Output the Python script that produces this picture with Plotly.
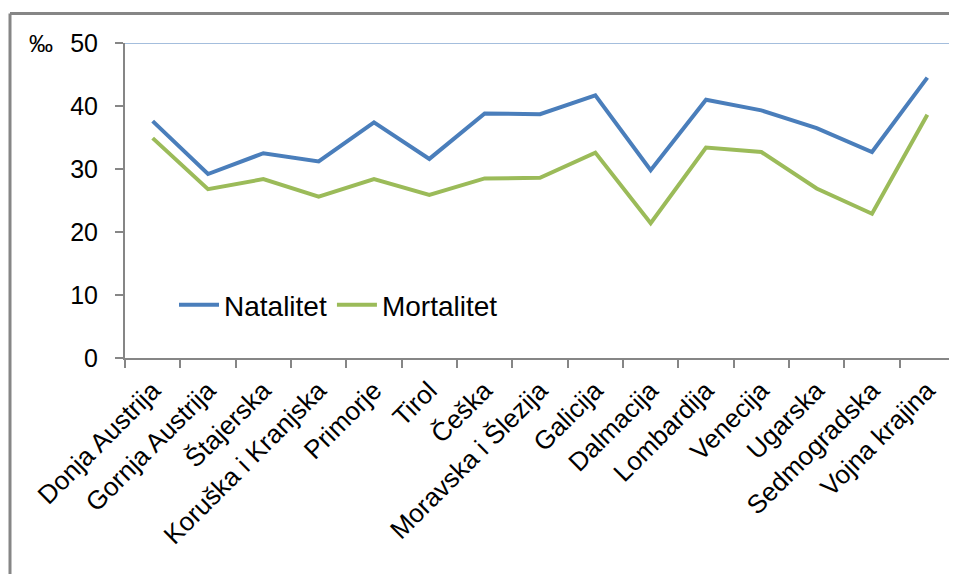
import plotly.graph_objects as go

categories = ["Donja Austrija", "Gornja Austrija", "Štajerska", "Koruška i Kranjska",
              "Primorje", "Tirol", "Češka", "Moravska i Šlezija", "Galicija",
              "Dalmacija", "Lombardija", "Venecija", "Ugarska", "Sedmogradska",
              "Vojna krajina"]
natalitet = [37.6, 29.2, 32.5, 31.2, 37.4, 31.6, 38.8, 38.7, 41.7, 29.8, 41.0, 39.3, 36.5, 32.7, 44.5]
mortalitet = [34.9, 26.8, 28.4, 25.6, 28.4, 25.9, 28.5, 28.6, 32.6, 21.4, 33.4, 32.7, 26.9, 22.9, 38.6]
y_ticks = [0, 10, 20, 30, 40, 50]

# page body has an 8px margin; work in reference pixel coords and shift
OFF = 8
W, H = 957 - 2 * OFF, 582 - 2 * OFF
L, T = 125 - OFF, 43 - OFF
R = 0
B = H - (358 - OFF)
pw, ph = W - L - R, H - T - B
cat_w = (955 - 125) / len(categories)
x_end = -0.5 + pw / cat_w

def px(x):
    return (x - OFF - L) / pw

def py(y):
    return (H - B - (y - OFF)) / ph

fig = go.Figure()
fig.add_trace(go.Scatter(x=categories, y=natalitet, name="Natalitet", mode="lines",
                         line=dict(color="#4a7ebb", width=4)))
fig.add_trace(go.Scatter(x=categories, y=mortalitet, name="Mortalitet", mode="lines",
                         line=dict(color="#9bbb59", width=4)))

font = "Liberation Sans, Arial, sans-serif"
fig.update_layout(
    width=W, height=H,
    margin=dict(l=L, r=R, t=T, b=B, autoexpand=False),
    paper_bgcolor="white", plot_bgcolor="white",
    font=dict(family=font, color="black"),
    showlegend=True,
    legend=dict(orientation="h", x=px(174), xanchor="left", y=py(305), yanchor="middle",
                font=dict(size=28, family=font), bgcolor="rgba(0,0,0,0)",
                itemwidth=40, tracegroupgap=0),
    xaxis=dict(type="category", tickangle=-45, tickson="boundaries",
               ticks="outside", ticklen=8, tickcolor="#868686", tickwidth=2,
               showline=True, linecolor="#868686", linewidth=2,
               showgrid=False, zeroline=False, automargin=False,
               tickfont=dict(size=26, family=font, color="black"),
               ticklabelstandoff=5,
               range=[-0.5, x_end]),
    yaxis=dict(range=[0, 50], tickvals=y_ticks, ticks="outside", ticklen=8,
               tickcolor="#868686", tickwidth=2,
               showline=True, linecolor="#868686", linewidth=2,
               showgrid=False, zeroline=False, automargin=False,
               tickfont=dict(size=25, family=font, color="black"),
               ticklabelstandoff=12),
    shapes=[
        dict(type="line", xref="paper", yref="y", x0=0, x1=1, y0=50, y1=50,
             line=dict(color="#4a7ebb", width=1)),
        dict(type="line", xref="paper", yref="paper", x0=px(10), x1=1.0,
             y0=py(13.5), y1=py(13.5), line=dict(color="#868686", width=3)),
        dict(type="line", xref="paper", yref="paper", x0=px(10), x1=px(10),
             y0=py(13.5), y1=-B / ph, line=dict(color="#868686", width=3)),
    ],
    annotations=[
        dict(text="‰", xref="paper", yref="paper", x=px(41), y=py(43),
             xanchor="center", yanchor="middle", showarrow=False,
             font=dict(size=24, family=font, color="black")),
    ],
)

fig.write_html("out.html")
